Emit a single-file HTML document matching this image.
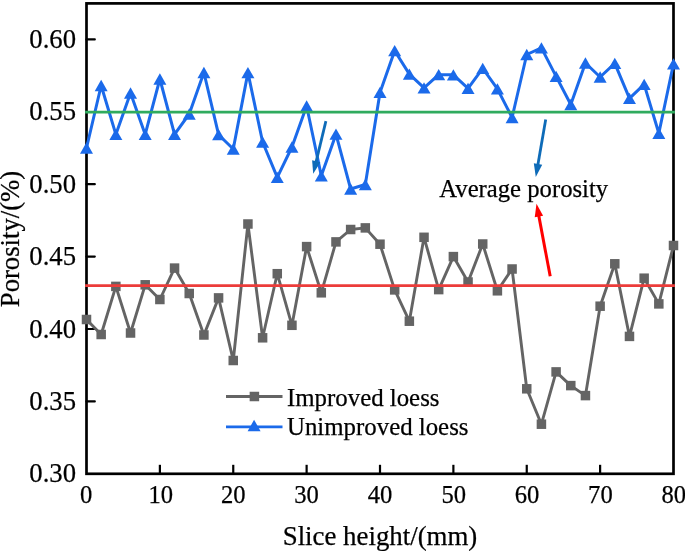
<!DOCTYPE html>
<html><head><meta charset="utf-8"><style>
html,body{margin:0;padding:0;background:#fff;width:685px;height:551px;overflow:hidden}
svg{display:block;will-change:transform}
</style></head><body>
<svg width="685" height="551" viewBox="0 0 685 551" font-family="'Liberation Serif', serif" fill="#000">
<g stroke="#000" stroke-width="2.2"><line x1="86.5" y1="39.4" x2="94.8" y2="39.4" stroke-linecap="round"/><line x1="86.5" y1="184.2" x2="94.8" y2="184.2" stroke-linecap="round"/><line x1="86.5" y1="256.6" x2="94.8" y2="256.6" stroke-linecap="round"/><line x1="86.5" y1="329" x2="94.8" y2="329" stroke-linecap="round"/><line x1="86.5" y1="401.4" x2="94.8" y2="401.4" stroke-linecap="round"/><line x1="159.88" y1="473.8" x2="159.88" y2="464.8"/><line x1="233.25" y1="473.8" x2="233.25" y2="464.8"/><line x1="306.62" y1="473.8" x2="306.62" y2="464.8"/><line x1="380.00" y1="473.8" x2="380.00" y2="464.8"/><line x1="453.38" y1="473.8" x2="453.38" y2="464.8"/><line x1="526.75" y1="473.8" x2="526.75" y2="464.8"/><line x1="600.12" y1="473.8" x2="600.12" y2="464.8"/></g><rect x="86.5" y="3.4" width="587.0" height="470.40000000000003" fill="none" stroke="#000" stroke-width="2.7"/>
<polyline points="86.50,319.5 101.17,334.5 115.85,286.4 130.53,333 145.20,284.8 159.88,299.5 174.55,268.1 189.23,293.5 203.90,335 218.58,297.9 233.25,360.5 247.93,224 262.60,337.8 277.27,273.7 291.95,325.3 306.62,246.6 321.30,292.8 335.98,241.9 350.65,229.5 365.32,227.9 380.00,244.2 394.68,289.9 409.35,321.2 424.03,237.3 438.70,289.6 453.38,256.6 468.05,282 482.73,244 497.40,290.8 512.08,269 526.75,388.8 541.42,424.2 556.10,371.9 570.78,385.6 585.45,395.6 600.12,306.2 614.80,263.8 629.48,336.4 644.15,278.2 658.83,303.9 673.50,245.5" fill="none" stroke="#646464" stroke-width="2.9" stroke-linejoin="round"/><g fill="#646464"><rect x="81.75" y="314.75" width="9.5" height="9.5"/><rect x="96.42" y="329.75" width="9.5" height="9.5"/><rect x="111.10" y="281.65" width="9.5" height="9.5"/><rect x="125.78" y="328.25" width="9.5" height="9.5"/><rect x="140.45" y="280.05" width="9.5" height="9.5"/><rect x="155.12" y="294.75" width="9.5" height="9.5"/><rect x="169.80" y="263.35" width="9.5" height="9.5"/><rect x="184.48" y="288.75" width="9.5" height="9.5"/><rect x="199.15" y="330.25" width="9.5" height="9.5"/><rect x="213.83" y="293.15" width="9.5" height="9.5"/><rect x="228.50" y="355.75" width="9.5" height="9.5"/><rect x="243.18" y="219.25" width="9.5" height="9.5"/><rect x="257.85" y="333.05" width="9.5" height="9.5"/><rect x="272.52" y="268.95" width="9.5" height="9.5"/><rect x="287.20" y="320.55" width="9.5" height="9.5"/><rect x="301.88" y="241.85" width="9.5" height="9.5"/><rect x="316.55" y="288.05" width="9.5" height="9.5"/><rect x="331.23" y="237.15" width="9.5" height="9.5"/><rect x="345.90" y="224.75" width="9.5" height="9.5"/><rect x="360.57" y="223.15" width="9.5" height="9.5"/><rect x="375.25" y="239.45" width="9.5" height="9.5"/><rect x="389.93" y="285.15" width="9.5" height="9.5"/><rect x="404.60" y="316.45" width="9.5" height="9.5"/><rect x="419.28" y="232.55" width="9.5" height="9.5"/><rect x="433.95" y="284.85" width="9.5" height="9.5"/><rect x="448.62" y="251.85" width="9.5" height="9.5"/><rect x="463.30" y="277.25" width="9.5" height="9.5"/><rect x="477.98" y="239.25" width="9.5" height="9.5"/><rect x="492.65" y="286.05" width="9.5" height="9.5"/><rect x="507.33" y="264.25" width="9.5" height="9.5"/><rect x="522.00" y="384.05" width="9.5" height="9.5"/><rect x="536.67" y="419.45" width="9.5" height="9.5"/><rect x="551.35" y="367.15" width="9.5" height="9.5"/><rect x="566.03" y="380.85" width="9.5" height="9.5"/><rect x="580.70" y="390.85" width="9.5" height="9.5"/><rect x="595.38" y="301.45" width="9.5" height="9.5"/><rect x="610.05" y="259.05" width="9.5" height="9.5"/><rect x="624.73" y="331.65" width="9.5" height="9.5"/><rect x="639.40" y="273.45" width="9.5" height="9.5"/><rect x="654.08" y="299.15" width="9.5" height="9.5"/><rect x="668.75" y="240.75" width="9.5" height="9.5"/></g><polyline points="86.50,148 101.17,85.5 115.85,134.4 130.53,93 145.20,134.4 159.88,79 174.55,134.4 189.23,114 203.90,72.5 218.58,134.7 233.25,149 247.93,72.6 262.60,142 277.27,177.4 291.95,147 306.62,106 321.30,175.8 335.98,134.2 350.65,189 365.32,184.5 380.00,92.4 394.68,50.7 409.35,74.1 424.03,87.8 438.70,74.7 453.38,74.8 468.05,88.3 482.73,68.4 497.40,88.9 512.08,117.5 526.75,54.5 541.42,47.9 556.10,76.4 570.78,104.5 585.45,63 600.12,77 614.80,63.4 629.48,98.4 644.15,84.4 658.83,133.3 673.50,63.8" fill="none" stroke="#1b6aea" stroke-width="3.0" stroke-linejoin="round"/><g fill="#1b6aea"><path d="M86.50 142.37L93.00 153.63L80.00 153.63Z"/><path d="M101.17 79.87L107.67 91.13L94.67 91.13Z"/><path d="M115.85 128.77L122.35 140.03L109.35 140.03Z"/><path d="M130.53 87.37L137.03 98.63L124.03 98.63Z"/><path d="M145.20 128.77L151.70 140.03L138.70 140.03Z"/><path d="M159.88 73.37L166.38 84.63L153.38 84.63Z"/><path d="M174.55 128.77L181.05 140.03L168.05 140.03Z"/><path d="M189.23 108.37L195.73 119.63L182.73 119.63Z"/><path d="M203.90 66.87L210.40 78.13L197.40 78.13Z"/><path d="M218.58 129.07L225.08 140.33L212.08 140.33Z"/><path d="M233.25 143.37L239.75 154.63L226.75 154.63Z"/><path d="M247.93 66.97L254.43 78.23L241.43 78.23Z"/><path d="M262.60 136.37L269.10 147.63L256.10 147.63Z"/><path d="M277.27 171.77L283.77 183.03L270.77 183.03Z"/><path d="M291.95 141.37L298.45 152.63L285.45 152.63Z"/><path d="M306.62 100.37L313.12 111.63L300.12 111.63Z"/><path d="M321.30 170.17L327.80 181.43L314.80 181.43Z"/><path d="M335.98 128.57L342.48 139.83L329.48 139.83Z"/><path d="M350.65 183.37L357.15 194.63L344.15 194.63Z"/><path d="M365.32 178.87L371.82 190.13L358.82 190.13Z"/><path d="M380.00 86.77L386.50 98.03L373.50 98.03Z"/><path d="M394.68 45.07L401.18 56.33L388.18 56.33Z"/><path d="M409.35 68.47L415.85 79.73L402.85 79.73Z"/><path d="M424.03 82.17L430.53 93.43L417.53 93.43Z"/><path d="M438.70 69.07L445.20 80.33L432.20 80.33Z"/><path d="M453.38 69.17L459.88 80.43L446.88 80.43Z"/><path d="M468.05 82.67L474.55 93.93L461.55 93.93Z"/><path d="M482.73 62.77L489.23 74.03L476.23 74.03Z"/><path d="M497.40 83.27L503.90 94.53L490.90 94.53Z"/><path d="M512.08 111.87L518.58 123.13L505.58 123.13Z"/><path d="M526.75 48.87L533.25 60.13L520.25 60.13Z"/><path d="M541.42 42.27L547.92 53.53L534.92 53.53Z"/><path d="M556.10 70.77L562.60 82.03L549.60 82.03Z"/><path d="M570.78 98.87L577.28 110.13L564.28 110.13Z"/><path d="M585.45 57.37L591.95 68.63L578.95 68.63Z"/><path d="M600.12 71.37L606.62 82.63L593.62 82.63Z"/><path d="M614.80 57.77L621.30 69.03L608.30 69.03Z"/><path d="M629.48 92.77L635.98 104.03L622.98 104.03Z"/><path d="M644.15 78.77L650.65 90.03L637.65 90.03Z"/><path d="M658.83 127.67L665.33 138.93L652.33 138.93Z"/><path d="M673.50 58.17L680.00 69.43L667.00 69.43Z"/></g><line x1="85.1" y1="112.1" x2="674.9" y2="112.1" stroke="#30ab5e" stroke-width="2.6"/><line x1="85.1" y1="285.6" x2="674.9" y2="285.6" stroke="#ec3c3a" stroke-width="2.6"/><line x1="325.90" y1="121.20" x2="316.02" y2="162.14" stroke="#0e6bb8" stroke-width="2.8"/><path d="M313.20 173.80L312.12 160.17L320.38 162.16Z" fill="#0e6bb8"/><line x1="545.70" y1="119.40" x2="537.84" y2="165.07" stroke="#0e6bb8" stroke-width="2.8"/><path d="M535.80 176.90L533.82 163.37L542.19 164.81Z" fill="#0e6bb8"/><line x1="550.20" y1="276.20" x2="538.73" y2="215.59" stroke="#ff0000" stroke-width="3.0"/><path d="M536.50 203.80L543.09 215.78L534.74 217.36Z" fill="#ff0000"/>
<g stroke="#000" stroke-width="0.25"><text x="76" y="482.3" text-anchor="end" font-size="26.7">0.30</text><text x="76" y="409.9" text-anchor="end" font-size="26.7">0.35</text><text x="76" y="337.5" text-anchor="end" font-size="26.7">0.40</text><text x="76" y="265.1" text-anchor="end" font-size="26.7">0.45</text><text x="76" y="192.7" text-anchor="end" font-size="26.7">0.50</text><text x="76" y="120.3" text-anchor="end" font-size="26.7">0.55</text><text x="76" y="47.9" text-anchor="end" font-size="26.7">0.60</text><text x="86.05" y="503" text-anchor="middle" font-size="24.6">0</text><text x="160.68" y="503" text-anchor="middle" font-size="24.6">10</text><text x="233.25" y="503" text-anchor="middle" font-size="24.6">20</text><text x="306.62" y="503" text-anchor="middle" font-size="24.6">30</text><text x="380.00" y="503" text-anchor="middle" font-size="24.6">40</text><text x="453.68" y="503" text-anchor="middle" font-size="24.6">50</text><text x="527.05" y="503" text-anchor="middle" font-size="24.6">60</text><text x="600.42" y="503" text-anchor="middle" font-size="24.6">70</text><text x="673.80" y="503" text-anchor="middle" font-size="24.6">80</text><text x="380" y="545.4" text-anchor="middle" font-size="26.85">Slice height/(mm)</text><text transform="translate(19,239) rotate(-90)" text-anchor="middle" font-size="26.7">Porosity/(%)</text><text x="439.3" y="196.6" font-size="24.7">Average porosity</text></g>
<line x1="226" y1="396.5" x2="282.5" y2="396.5" stroke="#646464" stroke-width="2.8"/><g fill="#646464"><rect x="249.65" y="391.75" width="9.5" height="9.5"/></g><line x1="226" y1="426.9" x2="282.5" y2="426.9" stroke="#1b6aea" stroke-width="2.8"/><g fill="#1b6aea"><path d="M254.10 419.87L260.60 431.13L247.60 431.13Z"/></g><g stroke="#000" stroke-width="0.25"><text x="287" y="405.7" font-size="24.85">Improved loess</text><text x="287" y="435.3" font-size="24.85">Unimproved loess</text></g>
</svg>
</body></html>
